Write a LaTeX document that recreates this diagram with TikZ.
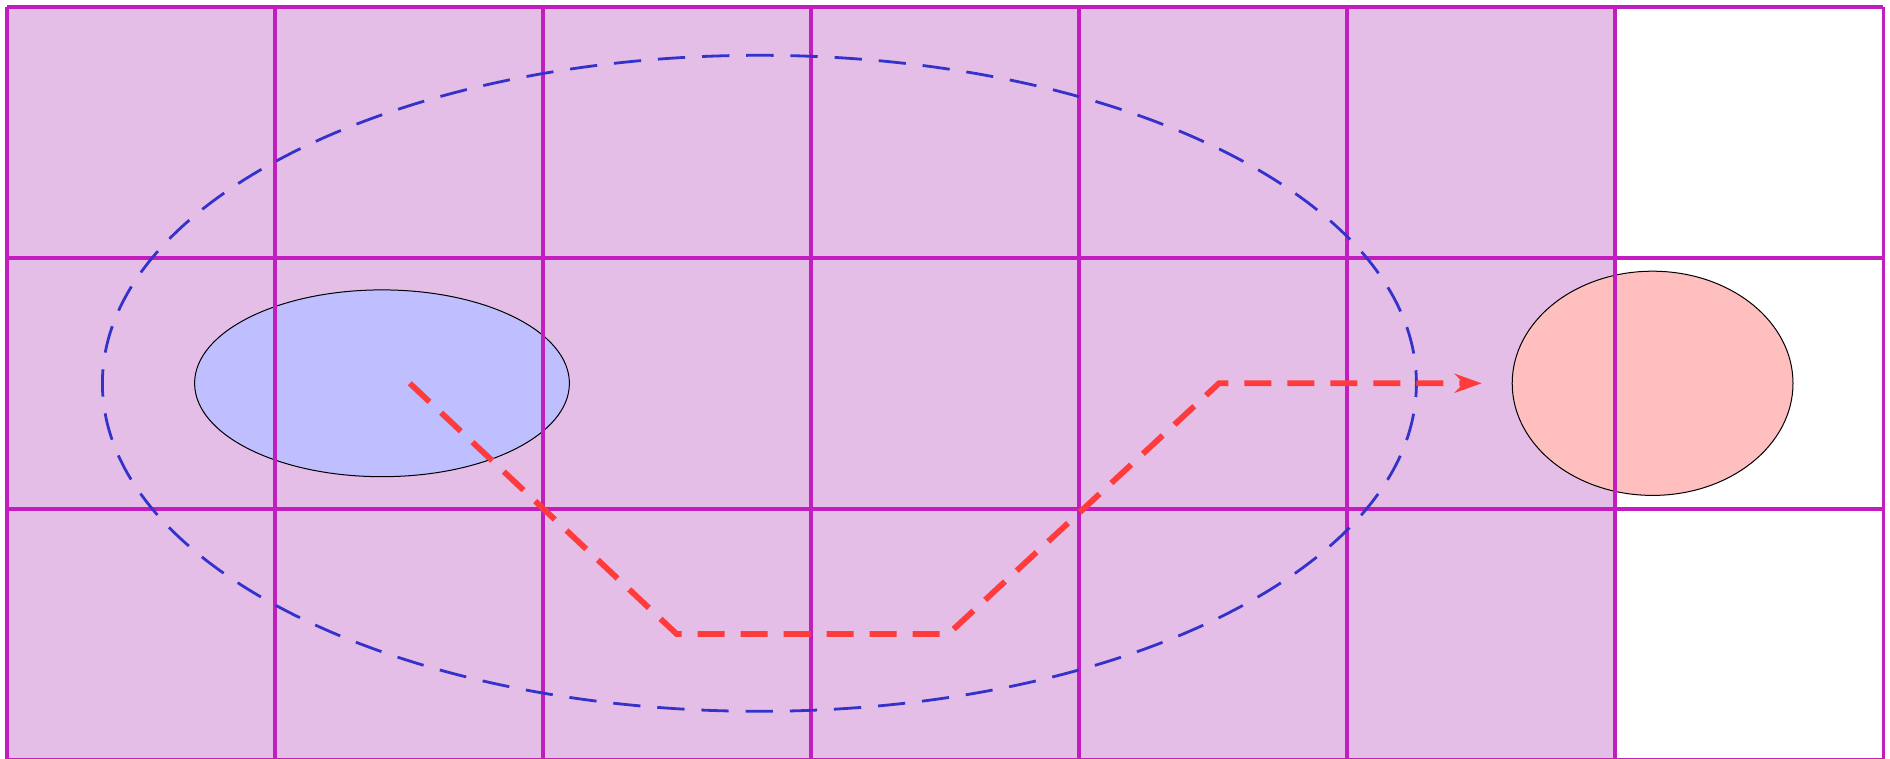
\documentclass[tikz,border=0pt]{standalone}
\usetikzlibrary{arrows.meta,shapes.geometric}
\definecolor{gridc}{HTML}{C21EBF}
\definecolor{cellc}{HTML}{E4BEE6}
\definecolor{bluedash}{HTML}{3333CC}
\definecolor{redp}{HTML}{FF3B3B}
\definecolor{bluefill}{HTML}{BFBFFF}
\definecolor{pinkfill}{HTML}{FFBFBF}
\tikzset{
  gridline/.style={draw=gridc, line width=1.8pt},
  blob/.style={ellipse, draw=black, line width=0.5pt, inner sep=0pt},
  bigloop/.style={draw=bluedash, line width=1.4pt, dash pattern=on 13.65pt off 8.45pt, dash phase=6.8pt},
  route/.style={draw=redp, line width=2.9pt, dash pattern=on 13.5pt off 8pt,
    -{Stealth[length=13.5pt, width=9.5pt]}}
}
\begin{document}
\begin{tikzpicture}[x=0.5pt, y=-0.5pt]
\useasboundingbox (0,0) rectangle (1890,759);
% shaded cells
\fill[cellc] (7,7) rectangle (1615.3,760);
% ellipses (nodes)
\node[blob, fill=bluefill, minimum width=187.4pt, minimum height=93.4pt] (A) at (382,383.3) {};
\node[blob, fill=pinkfill, minimum width=140.4pt, minimum height=112.1pt] (B) at (1652.6,383.3) {};
% grid
\foreach \i in {0,...,7} {
  \draw[gridline] ({7+\i*268.04},7) -- ({7+\i*268.04},760);
}
\foreach \j in {0,...,3} {
  \draw[gridline] (7,{7+\j*251}) -- (1883.3,{7+\j*251});
}
% big dashed ellipse
\coordinate (C) at (759.4,383.3);
\draw[bigloop] (C) ellipse [x radius=657, y radius=328];
% red route
\coordinate (p0) at (409.8,383.3);
\coordinate (p1) at (676.7,634);
\coordinate (p2) at (948.3,634);
\coordinate (p3) at (1219,383.3);
\coordinate (p4) at (1481.7,383.3);
\draw[route] (p0) -- (p1) -- (p2) -- (p3) -- (p4);
\end{tikzpicture}
\end{document}
